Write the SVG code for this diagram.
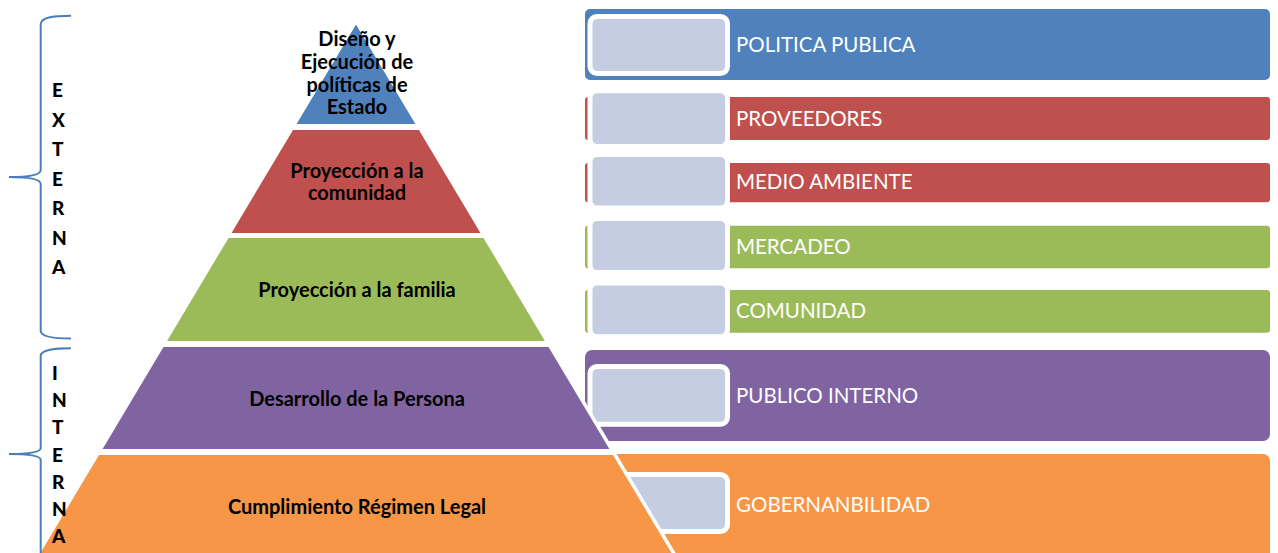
<svg xmlns="http://www.w3.org/2000/svg" width="1278" height="553" viewBox="0 0 1278 553">
<style>
.bar{stroke:none}
.lb{fill:#C4CDE1;stroke:#FFFFFF;stroke-width:5}
.seg{stroke:#FFFFFF;stroke-width:3.5;stroke-linejoin:miter}
.pt{font-family:Lato,"Liberation Sans",sans-serif;font-weight:bold;font-size:20px;fill:#000000;text-anchor:middle}
.rt{font-family:Lato,"Liberation Sans",sans-serif;font-size:20.5px;fill:#FFFFFF}
.side{font-family:Lato,"Liberation Sans",sans-serif;font-weight:900;font-size:19px;fill:#000000}
.brace{fill:none;stroke:#4A7EBB;stroke-width:2}
</style>
<rect width="1278" height="553" fill="#FFFFFF"/>

<g id="bar-politica">
<rect class="bar" x="585" y="9" width="685" height="71" rx="5" fill="#4F81BD"/>
<rect class="lb" x="590" y="16.5" width="137.5" height="57" rx="7"/>
<text class="rt" x="736" y="52.3">POLITICA PUBLICA</text>
</g>
<g id="bar-proveedores">
<rect class="bar" x="585" y="97" width="685" height="43" rx="3" fill="#C0504D"/>
<rect class="lb" x="590" y="90.8" width="137.5" height="55.7" rx="7"/>
<text class="rt" x="736" y="126">PROVEEDORES</text>
</g>
<g id="bar-medio">
<rect class="bar" x="585" y="163" width="685" height="39.3" rx="3" fill="#C0504D"/>
<rect class="lb" x="590" y="154.5" width="137.5" height="53.5" rx="7"/>
<text class="rt" x="736" y="188.5">MEDIO AMBIENTE</text>
</g>
<g id="bar-mercadeo">
<rect class="bar" x="585" y="225.7" width="685" height="42.6" rx="3" fill="#9BBB59"/>
<rect class="lb" x="590" y="218.5" width="137.5" height="54" rx="7"/>
<text class="rt" x="736" y="254">MERCADEO</text>
</g>
<g id="bar-comunidad">
<rect class="bar" x="585" y="290" width="685" height="42.7" rx="3" fill="#9BBB59"/>
<rect class="lb" x="590" y="283" width="137.5" height="53.7" rx="7"/>
<text class="rt" x="736" y="318">COMUNIDAD</text>
</g>
<g id="bar-publico">
<rect class="bar" x="585" y="350" width="685" height="91" rx="7" fill="#8064A2"/>
<rect class="lb" x="590" y="366.5" width="137.5" height="57.7" rx="7"/>
<text class="rt" x="736" y="403">PUBLICO INTERNO</text>
</g>
<g id="bar-gobernabilidad">
<rect class="bar" x="585" y="454" width="685" height="115" rx="7" fill="#F79646"/>
<rect class="lb" x="590" y="474.5" width="137.5" height="57" rx="7"/>
<text class="rt" x="736" y="511.7">GOBERNANBILIDAD</text>
</g>

<g id="pyr-estado">
<polygon class="seg" fill="#4F81BD" points="356,21 418.54,125.75 293.46,125.75"/>
<text class="pt" x="357" y="45.5">Diseño y</text>
<text class="pt" x="357" y="68.5">Ejecución de</text>
<text class="pt" x="357" y="91.5">políticas de</text>
<text class="pt" x="357" y="114">Estado</text>
</g>
<g id="pyr-comunidad">
<polygon class="seg" fill="#C0504D" points="291.97,128.25 420.03,128.25 483.61,234.75 228.39,234.75"/>
<text class="pt" x="357" y="177.7">Proyección a la</text>
<text class="pt" x="357" y="200.3">comunidad</text>
</g>
<g id="pyr-familia">
<polygon class="seg" fill="#9BBB59" points="227.5,236.25 484.5,236.25 548.08,342.75 163.92,342.75"/>
<text class="pt" x="357" y="296.5">Proyección a la familia</text>
</g>
<g id="pyr-persona">
<polygon class="seg" fill="#8064A2" points="162.42,345.25 549.58,345.25 612.56,450.75 99.44,450.75"/>
<text class="pt" x="357" y="405.5">Desarrollo de la Persona</text>
</g>
<g id="pyr-legal">
<polygon class="seg" fill="#F79646" points="97.95,453.25 614.05,453.25 683.75,570 28.25,570"/>
<text class="pt" x="357" y="513.5">Cumplimiento Régimen Legal</text>
</g>

<g id="brace-externa">
<path class="brace" d="M71,15.7 C55,15.7 41,17 40.7,24 L40.7,170 C40.7,175 30,177 9,177 C30,177 40.7,179 40.7,184 L40.7,331 C41,337 55,338.5 71,338.5"/>
<text class="side" x="52" y="97">E</text>
<text class="side" x="52" y="127">X</text>
<text class="side" x="52" y="156">T</text>
<text class="side" x="52" y="186">E</text>
<text class="side" x="52" y="215">R</text>
<text class="side" x="52" y="245">N</text>
<text class="side" x="52" y="274">A</text>
</g>
<g id="brace-interna">
<path class="brace" d="M71,348.3 C55,348.3 41,349.5 40.7,356 L40.7,448 C40.7,452 30,454 9,454 C30,454 40.7,456 40.7,460 L40.7,560"/>
<text class="side" x="52" y="380">I</text>
<text class="side" x="52" y="407">N</text>
<text class="side" x="52" y="434">T</text>
<text class="side" x="52" y="461.5">E</text>
<text class="side" x="52" y="489">R</text>
<text class="side" x="52" y="516">N</text>
<text class="side" x="52" y="543">A</text>
</g>
<g id="connectors"/>
</svg>
